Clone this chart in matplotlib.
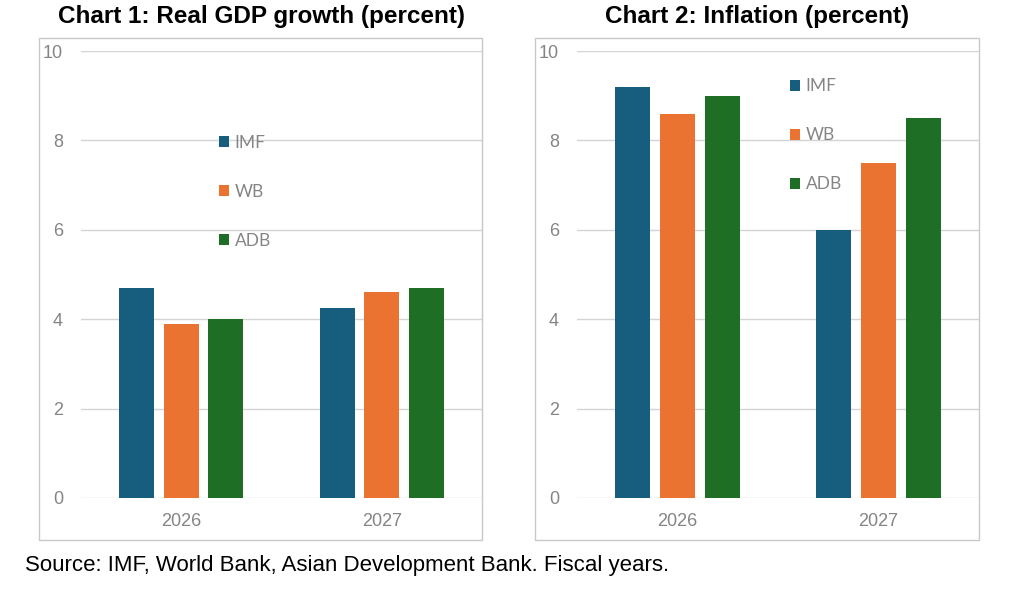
import numpy as np
import matplotlib.pyplot as plt
from matplotlib.patches import Rectangle

# ============================================================
# DATA
# ============================================================

years = ["2026", "2027"]
sources = ["IMF", "WB", "ADB"]

gdp_imf = [4.7, 4.25]
gdp_wb = [3.9, 4.6]
gdp_adb = [4.0, 4.7]

infl_imf = [9.2, 6.0]
infl_wb = [8.6, 7.5]
infl_adb = [9.0, 8.5]

yticks = [0, 2, 4, 6, 8, 10]

titles = ["Chart 1: Real GDP growth (percent)", "Chart 2: Inflation (percent)"]
source_note = "Source: IMF, World Bank, Asian Development Bank. Fiscal years."

COLORS = ["#175e7e", "#ea7332", "#1f6e26"]
GRID = "#d4d4d4"
TICK_GRAY = "#858585"

# ============================================================
# LAYOUT (pixels)
# ============================================================

W, H = 1017, 595


def fx(px):
    return px / W


def fy(py):
    return 1 - py / H


fig = plt.figure(figsize=(W / 100, H / 100), dpi=100)

panels = [
    {"box": (39, 38, 482, 540), "ax": (81, 51, 482, 498),
     "data": [gdp_imf, gdp_wb, gdp_adb], "leg": (0.344, 0.813), "tx": 261},
    {"box": (535, 38, 979, 540), "ax": (577, 51, 979, 498),
     "data": [infl_imf, infl_wb, infl_adb], "leg": (0.530, 0.939), "tx": 757},
]

for p, title in zip(panels, titles):
    x0, y0, x1, y1 = p["box"]
    fig.patches.append(Rectangle((fx(x0), fy(y1)), fx(x1 - x0), (y1 - y0) / H,
                                 transform=fig.transFigure, fill=False,
                                 edgecolor="#c8c8c8", linewidth=1.0))

    a0, b0, a1, b1 = p["ax"]
    ax = fig.add_axes([fx(a0), fy(b1), fx(a1 - a0), (b1 - b0) / H])

    x = np.arange(len(years))
    width = 0.175
    offset = 0.222
    for i, (vals, name) in enumerate(zip(p["data"], sources)):
        ax.bar(x + (i - 1) * offset, vals, width=width, color=COLORS[i],
               label=name, zorder=3)

    ax.set_xlim(-0.5, 1.5)
    ax.set_ylim(0, 10)
    ax.set_yticks(yticks)
    ax.set_xticks(x)
    ax.set_xticklabels(years)
    ax.yaxis.grid(True, color=GRID, linewidth=1.0, zorder=0)
    ax.set_axisbelow(True)
    for s in ax.spines.values():
        s.set_visible(False)

    ax.tick_params(axis="y", length=0, pad=13, labelsize=13, labelcolor=TICK_GRAY)
    ax.tick_params(axis="x", length=0, pad=11, labelsize=13, labelcolor=TICK_GRAY)
    for lab in ax.get_yticklabels() + ax.get_xticklabels():
        lab.set_family("Liberation Sans")

    leg = ax.legend(loc="upper left", bbox_to_anchor=p["leg"], frameon=False,
                    handlelength=0.6, handleheight=0.6, handletextpad=0.3,
                    labelspacing=1.9, borderpad=0, borderaxespad=0,
                    prop={"family": "Lato", "size": 12.5})
    for t in leg.get_texts():
        t.set_color(TICK_GRAY)

    fig.text(fx(p["tx"]), fy(17), title, ha="center", va="center",
             fontsize=17.5, fontweight="bold", family="Liberation Sans")

fig.text(fx(25), fy(565), source_note, ha="left", va="center",
         fontsize=16, family="Liberation Sans")

fig.savefig("out.png", dpi=100)
